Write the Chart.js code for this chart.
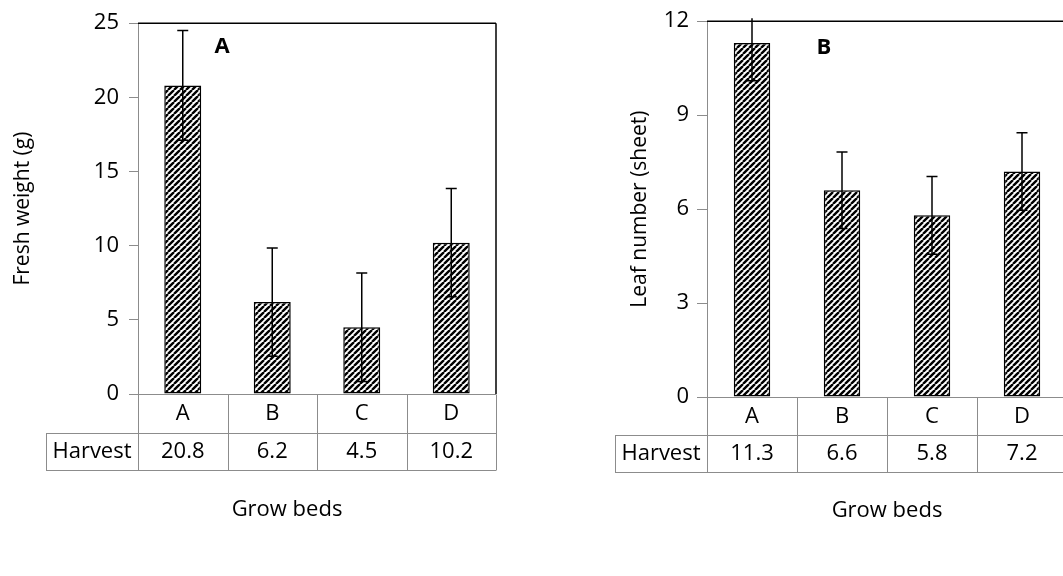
<!DOCTYPE html>
<html>
<head>
<meta charset="utf-8">
<script src="https://cdn.jsdelivr.net/npm/chart.js@4"></script>
<style>
  body { margin: 0; background: #fff; overflow: hidden; width: 1063px; height: 576px; position: relative; }
  canvas { position: absolute; top: 0; }
  #chartA { left: 0; }
  #chartB { left: 533px; }
</style>
</head>
<body>
<canvas id="chartA" width="530" height="576"></canvas>
<canvas id="chartB" width="560" height="576"></canvas>
<script>
// data
const beds = ['A', 'B', 'C', 'D'];
const weightMean = [20.8, 6.2, 4.5, 10.2];
const weightErr = [3.7, 3.65, 3.65, 3.65];
const leafMean = [11.3, 6.6, 5.8, 7.2];
const leafErr = [1.2, 1.22, 1.24, 1.24];
const rowLabel = 'Harvest';

const FONT = '"Open Sans", sans-serif';
Chart.defaults.font.family = FONT;
Chart.defaults.color = '#000';

// wide upward diagonal hatch
function hatch() {
  const s = 6;
  const c = document.createElement('canvas');
  c.width = c.height = s;
  const g = c.getContext('2d');
  g.fillStyle = '#fff';
  g.fillRect(0, 0, s, s);
  g.strokeStyle = '#000';
  g.lineWidth = 2.4;
  g.beginPath();
  for (let k = -1; k <= 1; k++) {
    g.moveTo(k * s, s);
    g.lineTo(k * s + s, 0);
  }
  g.stroke();
  return g.createPattern(c, 'repeat');
}

function line(ctx, x1, y1, x2, y2) {
  ctx.beginPath();
  ctx.moveTo(x1, y1);
  ctx.lineTo(x2, y2);
  ctx.stroke();
}

function makeChart(id, p) {
  const extras = {
    id: 'extras',
    afterDatasetsDraw(chart) {
      const {ctx, chartArea: a} = chart;
      const y = chart.scales.y;
      const meta = chart.getDatasetMeta(0);
      // error bars
      ctx.save();
      ctx.beginPath();
      ctx.rect(0, a.top - 3, chart.width, a.bottom - a.top + 3);
      ctx.clip();
      ctx.strokeStyle = '#000';
      ctx.lineWidth = 1.5;
      meta.data.forEach((bar, i) => {
        const yt = y.getPixelForValue(p.mean[i] + p.err[i]);
        const yb = y.getPixelForValue(p.mean[i] - p.err[i]);
        line(ctx, bar.x, yt, bar.x, yb);
        line(ctx, bar.x - 5.5, yt, bar.x + 5.5, yt);
        line(ctx, bar.x - 5.5, yb, bar.x + 5.5, yb);
      });
      ctx.restore();

      // black frame top and right
      ctx.save();
      ctx.strokeStyle = '#000';
      ctx.lineWidth = 1.5;
      line(ctx, a.left, a.top, a.right, a.top);
      line(ctx, a.right, a.top, a.right, a.bottom);
      ctx.restore();

      // data table under the axis
      const n = beds.length;
      const w = (a.right - a.left) / n;
      const y0 = Math.round(a.bottom) + 0.5;
      const y1 = p.row1 + 0.5;
      const y2 = p.row2 + 0.5;
      ctx.save();
      ctx.strokeStyle = '#8c8c8c';
      ctx.lineWidth = 1;
      line(ctx, a.left, y0, a.right, y0);
      line(ctx, p.harvestLeft, y1, a.right, y1);
      line(ctx, p.harvestLeft, y2, a.right, y2);
      for (let i = 0; i <= n; i++) {
        const x = Math.round(a.left + i * w) + 0.5;
        line(ctx, x, y0, x, y2);
      }
      line(ctx, p.harvestLeft + 0.5, y1, p.harvestLeft + 0.5, y2);

      ctx.fillStyle = '#000';
      ctx.font = '22px ' + FONT;
      ctx.textAlign = 'center';
      ctx.textBaseline = 'middle';
      for (let i = 0; i < n; i++) {
        const cx = a.left + (i + 0.5) * w;
        ctx.fillText(beds[i], cx, (y0 + y1) / 2);
        ctx.fillText(p.mean[i].toFixed(1), cx, (y1 + y2) / 2);
      }
      ctx.fillText(rowLabel, (p.harvestLeft + a.left) / 2, (y1 + y2) / 2);
      ctx.fillText('Grow beds', p.xTitleX, p.xTitleY);

      ctx.font = '700 22px ' + FONT;
      ctx.fillText(p.panel, p.panelX, p.panelY);
      ctx.restore();
    }
  };

  return new Chart(document.getElementById(id), {
    type: 'bar',
    data: {
      labels: beds,
      datasets: [{
        data: p.mean,
        backgroundColor: hatch(),
        borderColor: '#000',
        borderWidth: 1.5,
        borderSkipped: false,
        categoryPercentage: 1,
        barPercentage: p.barPct
      }]
    },
    options: {
      responsive: false,
      animation: false,
      layout: { padding: { top: p.top, right: p.right, bottom: p.bottom, left: 0 } },
      plugins: { legend: { display: false }, tooltip: { enabled: false } },
      scales: {
        x: { display: false },
        y: {
          min: 0,
          max: p.max,
          ticks: { stepSize: p.step, font: { size: 22 }, color: '#000', padding: p.tickPad },
          grid: { drawOnChartArea: false, drawTicks: true, tickLength: p.tickLen, color: '#8c8c8c' },
          border: { color: '#8c8c8c', width: 1 },
          title: { display: true, text: p.yTitle, font: { size: 21 }, color: '#000', padding: { top: p.titlePad, bottom: 0 } },
          afterFit: s => { s.width = p.axisW; }
        }
      }
    },
    plugins: [extras]
  });
}

makeChart('chartA', {
  mean: weightMean, err: weightErr, max: 25, step: 5,
  yTitle: 'Fresh weight (g)', panel: 'A',
  top: 16, right: 34, bottom: 182, axisW: 138,
  tickLen: 9, tickPad: 10, titlePad: 10, barPct: 0.413,
  row1: 433, row2: 470, harvestLeft: 46,
  xTitleX: 287, xTitleY: 510, panelX: 222, panelY: 47
});

makeChart('chartB', {
  mean: leafMean, err: leafErr, max: 12, step: 3,
  yTitle: 'Leaf number (sheet)', panel: 'B',
  top: 20, right: 26, bottom: 179, axisW: 174,
  tickLen: 10, tickPad: 8, titlePad: 94, barPct: 0.405,
  row1: 435, row2: 472, harvestLeft: 82,
  xTitleX: 354, xTitleY: 511, panelX: 291, panelY: 48
});
</script>
</body>
</html>
